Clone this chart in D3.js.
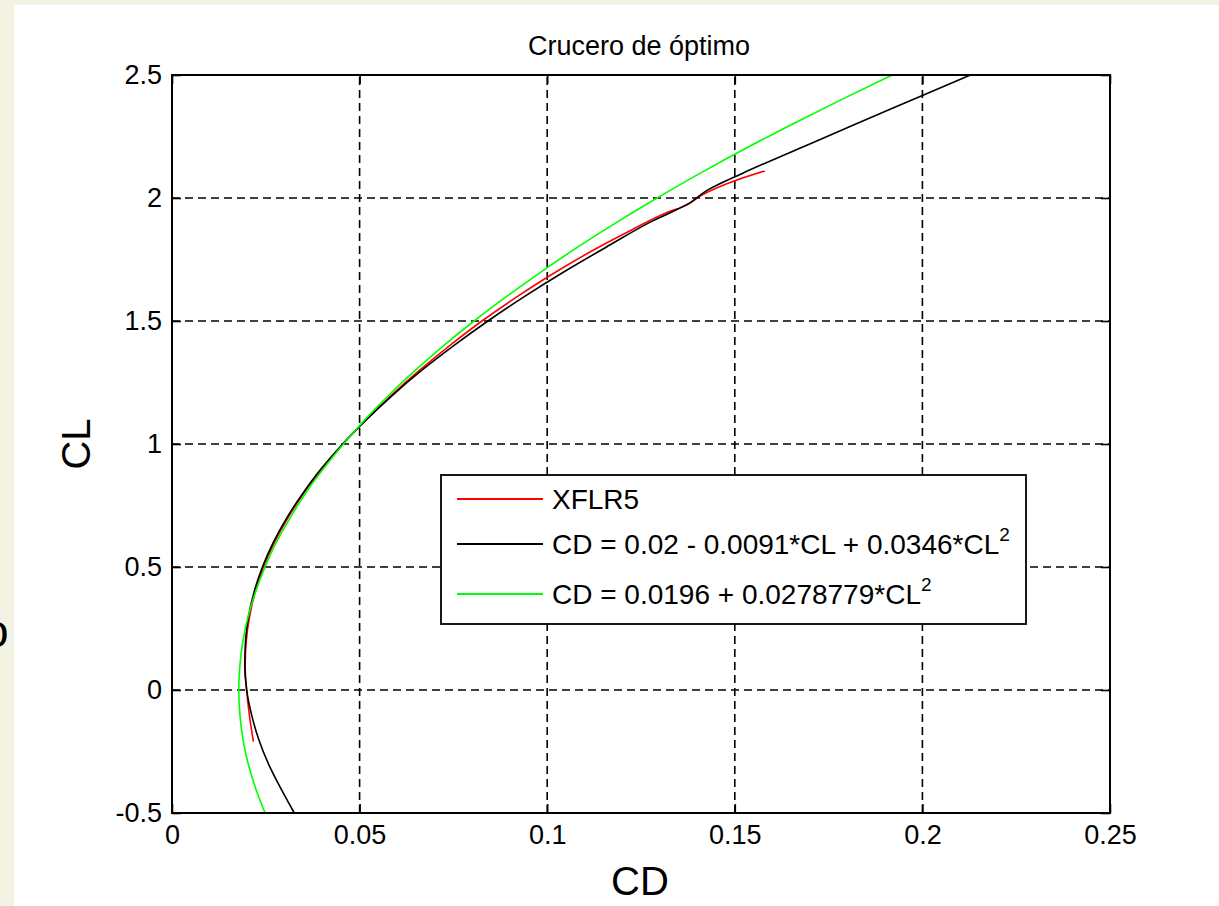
<!DOCTYPE html>
<html>
<head>
<meta charset="utf-8">
<script src="https://cdn.jsdelivr.net/npm/d3@7"></script>
<style>
  html, body { margin: 0; padding: 0; background: #f4f2e3; }
  svg { display: block; }
  text { font-family: "Liberation Sans", Arial, sans-serif; fill: #000; }
</style>
</head>
<body>
<svg id="chart" width="1219" height="906"></svg>
<script>
// ---- data ----
const title = "Crucero de óptimo";
const xLabel = "CD";
const yLabel = "CL";
const xTicks = [0, 0.05, 0.1, 0.15, 0.2, 0.25];
const xTickLabels = ["0", "0.05", "0.1", "0.15", "0.2", "0.25"];
const yTicks = [-0.5, 0, 0.5, 1, 1.5, 2, 2.5];
const yTickLabels = ["-0.5", "0", "0.5", "1", "1.5", "2", "2.5"];

// XFLR5 polar (CL, CD)
const xflrCL = [-0.21, -0.1, 0, 0.1, 0.2, 0.3, 0.4, 0.5, 0.6, 0.7, 0.8, 0.9, 1.0, 1.1, 1.2, 1.3, 1.4, 1.5, 1.6, 1.7, 1.8, 1.87, 1.94, 1.97, 2.01, 2.07, 2.11];
const xflrCD = [0.0217, 0.0206, 0.0199, 0.0195, 0.0198, 0.0207, 0.0222, 0.0244, 0.0273, 0.0309, 0.0351, 0.0401, 0.0456, 0.0518, 0.0586, 0.0660, 0.0740, 0.0826, 0.0921, 0.1024, 0.1137, 0.1225, 0.1318, 0.1370, 0.1410, 0.1500, 0.1580];

// Fit 1 (black) (CL, CD)
const fit1CL = [-0.5, -0.4, -0.3, -0.2, -0.1, 0, 0.1, 0.2, 0.3, 0.4, 0.5, 0.6, 0.7, 0.8, 0.9, 1.0, 1.1, 1.2, 1.3, 1.4, 1.5, 1.6, 1.7, 1.8, 1.9, 1.98, 2.03, 2.1, 2.2, 2.3, 2.4, 2.5];
const fit1CD = [0.0326, 0.0290, 0.0257, 0.0231, 0.0212, 0.0199, 0.0194, 0.0196, 0.0204, 0.0219, 0.0241, 0.0270, 0.0306, 0.0349, 0.0398, 0.0455, 0.0519, 0.0589, 0.0666, 0.0751, 0.0842, 0.0940, 0.1045, 0.1157, 0.1272, 0.1380, 0.1425, 0.1520, 0.1670, 0.1821, 0.1975, 0.2128];

// Fit 2 (green) (CL, CD)
const fit2CL = [-0.5, -0.4, -0.3, -0.2, -0.1, 0, 0.1, 0.2, 0.3, 0.4, 0.5, 0.6, 0.7, 0.8, 0.9, 1.0, 1.1, 1.2, 1.3, 1.4, 1.5, 1.6, 1.7, 1.8, 1.9, 2.0, 2.1, 2.2, 2.3, 2.4, 2.5];
const fit2CD = [0.0248, 0.0223, 0.0203, 0.0189, 0.0181, 0.0178, 0.0181, 0.0189, 0.0203, 0.0223, 0.0248, 0.0278, 0.0315, 0.0356, 0.0404, 0.0457, 0.0515, 0.0579, 0.0649, 0.0724, 0.0805, 0.0892, 0.0984, 0.1081, 0.1184, 0.1293, 0.1407, 0.1527, 0.1653, 0.1784, 0.1920];

const seriesNames = ["XFLR5", "CD = 0.02 - 0.0091*CL + 0.0346*CL", "CD = 0.0196 + 0.0278779*CL"];
const seriesColors = ["#ff0000", "#000000", "#00ff00"];

// ---- drawing ----
const svg = d3.select("#chart");

// white figure panel
svg.append("rect").attr("x", 14).attr("y", 5).attr("width", 1219 - 14).attr("height", 906 - 5).attr("fill", "#ffffff");

// partial slide letter at left edge (cut off as in the source)
svg.append("text").attr("x", -17).attr("y", 647).attr("font-size", 46).text("o");

const x = d3.scaleLinear().domain([0, 0.25]).range([172, 1110]);
const y = d3.scaleLinear().domain([-0.5, 2.5]).range([813, 75]);

// grid
const grid = svg.append("g").attr("stroke", "#000").attr("stroke-width", 1.6).attr("stroke-dasharray", "8,5");
xTicks.slice(1, -1).forEach(t => {
  grid.append("line").attr("x1", x(t)).attr("x2", x(t)).attr("y1", y(-0.5)).attr("y2", y(2.5));
});
yTicks.slice(1, -1).forEach(t => {
  grid.append("line").attr("x1", x(0)).attr("x2", x(0.25)).attr("y1", y(t)).attr("y2", y(t));
});

// curves
const line = d3.line().x(d => x(d[1])).y(d => y(d[0])).curve(d3.curveMonotoneY);
const series = [
  d3.zip(xflrCL, xflrCD),
  d3.zip(fit1CL, fit1CD),
  d3.zip(fit2CL, fit2CD)
];
[0, 1, 2].forEach(i => {
  svg.append("path").datum(series[i]).attr("d", line)
    .attr("fill", "none").attr("stroke", seriesColors[i]).attr("stroke-width", 1.6);
});

// axes
const tickLen = 9;
const axB = d3.axisBottom(x).tickValues(xTicks).tickFormat((d, i) => xTickLabels[i]).tickSizeInner(-tickLen).tickSizeOuter(0).tickPadding(12);
const axT = d3.axisTop(x).tickValues(xTicks).tickFormat("").tickSizeInner(-tickLen).tickSizeOuter(0);
const axL = d3.axisLeft(y).tickValues(yTicks).tickFormat((d, i) => yTickLabels[i]).tickSizeInner(-tickLen).tickSizeOuter(0).tickPadding(10);
const axR = d3.axisRight(y).tickValues(yTicks).tickFormat("").tickSizeInner(-tickLen).tickSizeOuter(0);

function styleAxis(g) {
  g.select(".domain").remove();
  g.selectAll(".tick line").attr("stroke", "#000").attr("stroke-width", 1.6);
  g.selectAll(".tick text").attr("font-size", 27).attr("font-family", "Liberation Sans, Arial, sans-serif").attr("fill", "#000");
}
svg.append("g").attr("transform", `translate(0,${y(-0.5)})`).call(axB).call(styleAxis);
svg.append("g").attr("transform", `translate(0,${y(2.5)})`).call(axT).call(styleAxis);
svg.append("g").attr("transform", `translate(${x(0)},0)`).call(axL).call(styleAxis);
svg.append("g").attr("transform", `translate(${x(0.25)},0)`).call(axR).call(styleAxis);

// axes box
svg.append("rect").attr("x", x(0)).attr("y", y(2.5)).attr("width", x(0.25) - x(0)).attr("height", y(-0.5) - y(2.5))
  .attr("fill", "none").attr("stroke", "#000").attr("stroke-width", 2);

// title and labels
svg.append("text").attr("x", 639).attr("y", 55).attr("text-anchor", "middle").attr("font-size", 27).text(title);
svg.append("text").attr("x", 640).attr("y", 895).attr("text-anchor", "middle").attr("font-size", 40).text(xLabel);
svg.append("text").attr("transform", "translate(90,444) rotate(-90)").attr("text-anchor", "middle").attr("font-size", 40).text(yLabel);

// legend
const lg = svg.append("g");
lg.append("rect").attr("x", 441).attr("y", 475).attr("width", 585).attr("height", 149)
  .attr("fill", "#fff").attr("stroke", "#000").attr("stroke-width", 1.8);
const rowY = [499, 544, 594];
seriesNames.forEach((name, i) => {
  lg.append("line").attr("x1", 457).attr("x2", 543).attr("y1", rowY[i]).attr("y2", rowY[i])
    .attr("stroke", seriesColors[i]).attr("stroke-width", 1.8);
  const t = lg.append("text").attr("x", 552).attr("y", rowY[i] + 10).attr("font-size", 28).text(name);
  if (i > 0) {
    t.append("tspan").attr("dy", -13).attr("font-size", 19).text("2");
  }
});
</script>
</body>
</html>
